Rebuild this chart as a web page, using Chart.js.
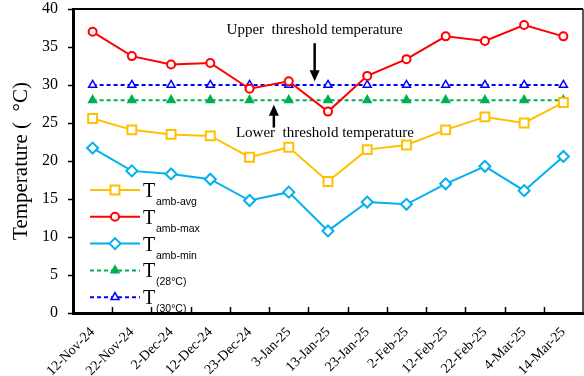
<!DOCTYPE html>
<html>
<head>
<meta charset="utf-8">
<script src="https://cdn.jsdelivr.net/npm/chart.js@4.4.0/dist/chart.umd.min.js"></script>
<style>
  html, body { margin: 0; padding: 0; background: #fff; }
  #wrap { width: 584px; height: 376px; }
</style>
</head>
<body>
<div id="wrap"><canvas id="tempChart" width="584" height="376"></canvas></div>
<script>
// sampling dates (category axis)
const dates = ['12-Nov-24', '22-Nov-24', '2-Dec-24', '12-Dec-24', '23-Dec-24', '3-Jan-25', '13-Jan-25',
               '23-Jan-25', '2-Feb-25', '12-Feb-25', '22-Feb-25', '4-Mar-25', '14-Mar-25'];

// ambient temperatures (degC)
const tAmbAvg = [25.6, 24.1, 23.5, 23.3, 20.5, 21.8, 17.3, 21.5, 22.1, 24.1, 25.8, 25.0, 27.7];
const tAmbMax = [37.0, 33.8, 32.7, 32.9, 29.5, 30.5, 26.5, 31.2, 33.4, 36.4, 35.8, 37.9, 36.4];
const tAmbMin = [21.7, 18.7, 18.3, 17.6, 14.8, 15.9, 10.8, 14.6, 14.3, 17.0, 19.3, 16.1, 20.6];
const t28 = [28, 28, 28, 28, 28, 28, 28, 28, 28, 28, 28, 28, 28];
const t30 = [30, 30, 30, 30, 30, 30, 30, 30, 30, 30, 30, 30, 30];

const yTicks = [0, 5, 10, 15, 20, 25, 30, 35, 40];
const legendSubs = ['amb-avg', 'amb-max', 'amb-min', '(28°C)', '(30°C)'];

// arrow notes, placed in data units (category index, degC)
const notes = [
    { text: 'Upper  threshold temperature', at: [5.66, 36.7], from: [5.66, 35.5], to: [5.66, 30.5] },
    { text: 'Lower  threshold temperature', at: [5.92, 23.1], from: [4.62, 24.4], to: [4.62, 27.4] }
];

const serif = "'Liberation Serif', 'DejaVu Serif', serif";
const sans = "'Liberation Sans', Arial, sans-serif";
Chart.defaults.font.family = serif;
Chart.defaults.color = '#000';

// draws the upper/right frame and the inward x tick marks
const framePlugin = {
    id: 'frame',
    afterDraw(chart) {
        const { ctx, chartArea } = chart;
        const xs = chart.scales.x;
        ctx.save();
        ctx.strokeStyle = '#000';
        ctx.lineWidth = 2;
        ctx.beginPath();
        ctx.moveTo(chartArea.left, chartArea.top);
        ctx.lineTo(chartArea.right, chartArea.top);
        ctx.stroke();
        ctx.lineWidth = 1.5;
        ctx.strokeStyle = '#222';
        ctx.beginPath();
        ctx.moveTo(chartArea.right, chartArea.top);
        ctx.lineTo(chartArea.right, chartArea.bottom);
        ctx.stroke();

        const step = xs.getPixelForValue(1) - xs.getPixelForValue(0);
        ctx.strokeStyle = '#000';
        ctx.lineWidth = 1.5;
        for (let k = 1; k < dates.length; k++) {
            const x = Math.round(xs.getPixelForValue(k) - step / 2) + 0.5;
            ctx.beginPath();
            ctx.moveTo(x, chartArea.bottom);
            ctx.lineTo(x, chartArea.bottom - 6);
            ctx.stroke();
        }
        ctx.restore();
    }
};

// arrow notes
const notePlugin = {
    id: 'notes',
    afterDatasetsDraw(chart) {
        const { ctx } = chart;
        const xs = chart.scales.x, ys = chart.scales.y;
        ctx.save();
        ctx.fillStyle = '#000';
        ctx.strokeStyle = '#000';
        ctx.font = '15px ' + serif;
        ctx.textAlign = 'center';
        ctx.textBaseline = 'alphabetic';
        notes.forEach(n => {
            ctx.fillText(n.text, xs.getPixelForValue(n.at[0]), ys.getPixelForValue(n.at[1]));
            const x = xs.getPixelForValue(n.from[0]);
            const y0 = ys.getPixelForValue(n.from[1]);
            const y1 = ys.getPixelForValue(n.to[1]);
            const dir = y1 > y0 ? 1 : -1;
            ctx.lineWidth = 2.5;
            ctx.beginPath();
            ctx.moveTo(x, y0);
            ctx.lineTo(x, y1 - dir * 9);
            ctx.stroke();
            ctx.beginPath();
            ctx.moveTo(x, y1);
            ctx.lineTo(x - 5, y1 - dir * 11);
            ctx.lineTo(x + 5, y1 - dir * 11);
            ctx.closePath();
            ctx.fill();
        });
        ctx.restore();
    }
};

// legend with subscripts, inside the plot
const legendPlugin = {
    id: 'subLegend',
    afterDatasetsDraw(chart) {
        const { ctx, chartArea } = chart;
        const x0 = chartArea.left + 17, x1 = x0 + 50;
        const top = chartArea.top + 181;
        chart.data.datasets.forEach((ds, i) => {
            const y = top + i * 26.8;
            ctx.save();
            ctx.strokeStyle = ds.borderColor;
            ctx.lineWidth = ds.borderWidth;
            ctx.setLineDash(ds.borderDash || []);
            ctx.beginPath();
            ctx.moveTo(x0, y);
            ctx.lineTo(x1, y);
            ctx.stroke();
            ctx.setLineDash([]);
            ctx.fillStyle = ds.pointBackgroundColor;
            ctx.strokeStyle = ds.pointBorderColor;
            ctx.lineWidth = ds.pointBorderWidth;
            Chart.helpers.drawPoint(ctx, {
                pointStyle: ds.pointStyle, radius: ds.pointRadius,
                borderWidth: ds.pointBorderWidth, rotation: 0
            }, (x0 + x1) / 2, y);
            ctx.fillStyle = '#000';
            ctx.textAlign = 'left';
            ctx.textBaseline = 'alphabetic';
            ctx.font = '20px ' + serif;
            ctx.fillText('T', x1 + 3, y + 7);
            ctx.font = '10.5px ' + sans;
            ctx.fillText(legendSubs[i], x1 + 16, y + 15);
            ctx.restore();
        });
    }
};

function lineSet(label, data, color, style, radius, fill, dash) {
    return {
        label: label,
        data: data,
        borderColor: color,
        backgroundColor: color,
        borderWidth: 2,
        borderDash: dash,
        pointStyle: style,
        pointRadius: radius,
        pointHoverRadius: radius,
        pointBackgroundColor: fill,
        pointBorderColor: color,
        pointBorderWidth: style === 'triangle' ? 1.5 : 2,
        tension: 0
    };
}

const ctx = document.getElementById('tempChart').getContext('2d');
new Chart(ctx, {
    type: 'line',
    data: {
        labels: dates,
        datasets: [
            lineSet('Tamb-avg', tAmbAvg, '#FFC000', 'rect', 6.3, '#fff', []),
            lineSet('Tamb-max', tAmbMax, '#FF0000', 'circle', 4, '#fff', []),
            lineSet('Tamb-min', tAmbMin, '#00B0F0', 'rectRot', 5.5, '#fff', []),
            lineSet('T(28°C)', t28, '#00B050', 'triangle', 4.6, '#00B050', [4, 3]),
            lineSet('T(30°C)', t30, '#0000FF', 'triangle', 4.6, '#fff', [4, 3])
        ]
    },
    options: {
        responsive: false,
        animation: false,
        layout: { autoPadding: false, padding: { top: 9, right: 1, left: 0, bottom: 0 } },
        plugins: {
            legend: { display: false },
            tooltip: { enabled: false }
        },
        scales: {
            x: {
                type: 'category',
                offset: true,
                afterFit: (scale) => {
                    scale.height = 63;
                    scale.paddingLeft = 0;
                    scale.paddingRight = 0;
                },
                grid: { display: true, drawOnChartArea: false, drawTicks: false, offset: true },
                border: { display: true, color: '#000', width: 3 },
                ticks: {
                    autoSkip: false,
                    minRotation: 45,
                    maxRotation: 45,
                    padding: 11,
                    font: { size: 14, family: serif },
                    color: '#000'
                }
            },
            y: {
                min: 0,
                max: 40,
                afterFit: (scale) => {
                    scale.width = 73;
                    scale.paddingTop = 0;
                    scale.paddingBottom = 0;
                },
                afterBuildTicks: (scale) => { scale.ticks = yTicks.map(v => ({ value: v })); },
                grid: { display: true, drawOnChartArea: false, drawTicks: true, tickLength: 5, color: '#000', tickWidth: 1.5 },
                border: { display: true, color: '#000', width: 3 },
                ticks: {
                    padding: 10,
                    font: { size: 16, family: serif },
                    color: '#000'
                },
                title: {
                    display: true,
                    text: 'Temperature (  °C)',
                    font: { size: 21, family: serif },
                    color: '#000',
                    padding: { top: 9, bottom: 0 }
                }
            }
        }
    },
    plugins: [framePlugin, notePlugin, legendPlugin]
});
</script>
</body>
</html>
